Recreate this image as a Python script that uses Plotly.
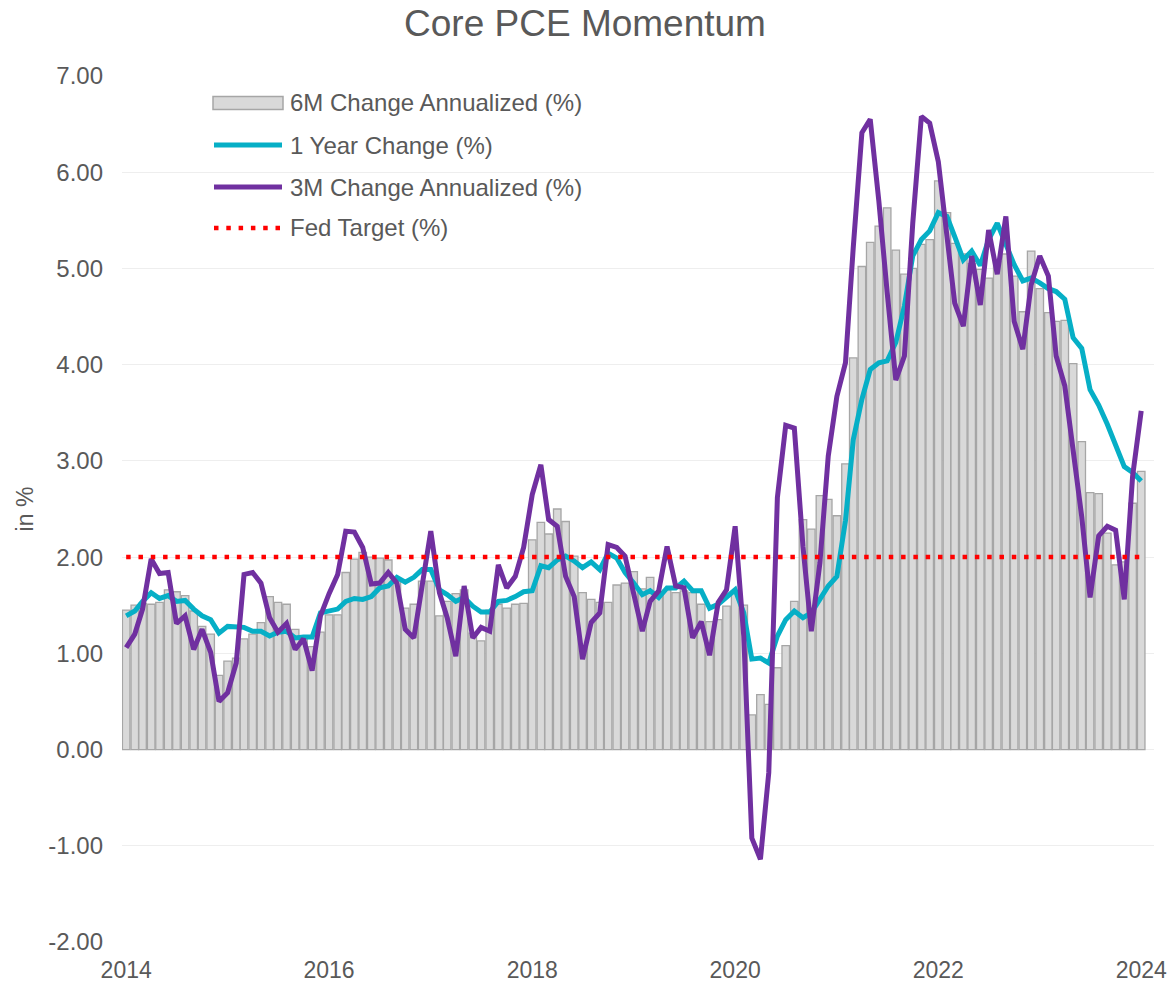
import plotly.graph_objects as go
import pandas as pd

# ---------------- data (monthly, Jan 2014 .. Jan 2024) ----------------
months = pd.date_range("2014-01-01", "2024-01-01", freq="MS")

six_month_annualized = [
    1.45, 1.50, 1.52, 1.51, 1.53, 1.66, 1.64, 1.60, 1.44, 1.28, 1.20, 0.77,
    0.92, 0.95, 1.15, 1.20, 1.32, 1.59, 1.53, 1.51, 1.25, 1.16, 1.07, 1.22,
    1.40, 1.40, 1.84, 1.98, 2.05, 2.00, 1.99, 1.97, 1.75, 1.47, 1.51, 1.75,
    1.75, 1.39, 1.54, 1.62, 1.66, 1.21, 1.13, 1.45, 1.51, 1.47, 1.51, 1.52,
    2.18, 2.36, 2.24, 2.50, 2.37, 2.01, 1.63, 1.56, 1.53, 1.53, 1.71, 1.73,
    1.85, 1.67, 1.79, 1.61, 1.66, 1.63, 1.65, 1.63, 1.51, 1.33, 1.35, 1.49,
    1.63, 1.50, 0.36, 0.57, 0.47, 0.85, 1.08, 1.54, 2.39, 2.29, 2.64, 2.60,
    2.43, 2.97, 4.07, 5.02, 5.27, 5.44, 5.63, 5.19, 4.94, 5.00, 5.25, 5.30,
    5.91, 5.58, 5.26, 5.15, 5.05, 4.99, 4.90, 5.07, 5.15, 4.92, 4.55, 5.18,
    4.79, 4.54, 4.45, 4.46, 4.01, 3.20, 2.67, 2.66, 2.25, 1.92, 1.95, 2.56,
    2.89,
]

one_year_change = [
    1.39, 1.44, 1.54, 1.63, 1.57, 1.60, 1.54, 1.55, 1.46, 1.39, 1.35, 1.21,
    1.28, 1.28, 1.27, 1.23, 1.23, 1.18, 1.22, 1.23, 1.16, 1.17, 1.17, 1.42,
    1.44, 1.46, 1.54, 1.57, 1.56, 1.59, 1.68, 1.70, 1.79, 1.74, 1.79, 1.87,
    1.87, 1.66, 1.61, 1.54, 1.58, 1.49, 1.43, 1.43, 1.54, 1.55, 1.59, 1.64,
    1.65, 1.91, 1.89, 1.97, 2.01, 1.96, 1.89, 1.95, 1.87, 2.04, 1.99, 1.84,
    1.73, 1.61, 1.65, 1.58, 1.68, 1.68, 1.75, 1.65, 1.65, 1.47, 1.51, 1.59,
    1.66, 1.42, 0.94, 0.95, 0.90, 1.18, 1.35, 1.44, 1.37, 1.42, 1.56, 1.70,
    1.80, 2.38, 3.22, 3.64, 3.95, 4.02, 4.04, 4.23, 4.61, 5.13, 5.30, 5.39,
    5.58, 5.54, 5.33, 5.09, 5.18, 5.03, 5.30, 5.47, 5.25, 5.04, 4.87, 4.90,
    4.85, 4.79, 4.76, 4.68, 4.28, 4.17, 3.74, 3.58, 3.38, 3.17, 2.94, 2.88,
    2.79,
]

three_month_annualized = [
    1.06, 1.20, 1.46, 1.98, 1.83, 1.84, 1.31, 1.39, 1.04, 1.25, 1.01, 0.50,
    0.59, 0.90, 1.82, 1.84, 1.73, 1.37, 1.22, 1.31, 1.04, 1.15, 0.82, 1.39,
    1.62, 1.82, 2.27, 2.26, 2.10, 1.72, 1.73, 1.84, 1.73, 1.25, 1.16, 1.72,
    2.27, 1.63, 1.37, 0.97, 1.70, 1.16, 1.27, 1.23, 1.92, 1.68, 1.80, 2.10,
    2.65, 2.96, 2.39, 2.32, 1.80, 1.59, 0.94, 1.32, 1.42, 2.13, 2.10, 2.01,
    1.63, 1.23, 1.54, 1.65, 2.11, 1.70, 1.68, 1.16, 1.33, 0.98, 1.53, 1.66,
    2.32, 1.18, -0.92, -1.14, -0.24, 2.62, 3.37, 3.34, 2.11, 1.23, 1.94, 3.05,
    3.67, 4.02, 5.22, 6.41, 6.55, 5.70, 4.75, 3.84, 4.09, 5.47, 6.58, 6.51,
    6.11, 5.37, 4.64, 4.40, 5.13, 4.62, 5.40, 4.94, 5.54, 4.45, 4.16, 4.83,
    5.13, 4.92, 4.09, 3.78, 3.15, 2.42, 1.58, 2.22, 2.32, 2.28, 1.56, 2.84,
    3.52,
]

FED_TARGET = 2.0
fed_target = [FED_TARGET] * len(months)

series_names = [
    "6M Change Annualized (%)",
    "1 Year Change (%)",
    "3M Change Annualized (%)",
    "Fed Target (%)",
]

y_tick_values = [-2, -1, 0, 1, 2, 3, 4, 5, 6, 7]
y_tick_labels = ["-2.00", "-1.00", "0.00", "1.00", "2.00", "3.00", "4.00", "5.00", "6.00", "7.00"]
x_tick_values = ["2014-01-01", "2016-01-01", "2018-01-01", "2020-01-01", "2022-01-01", "2024-01-01"]
x_tick_labels = ["2014", "2016", "2018", "2020", "2022", "2024"]

# ---------------- styles ----------------
FONT = "Arial, 'Liberation Sans', sans-serif"
TEXT = "#595959"
BAR_FILL = "#d9d9d9"
BAR_LINE = "#a6a6a6"
CYAN = "#06afc6"
PURPLE = "#7030a0"
RED = "#ff0000"
DOT_DASH = "4.5px,7.8px"

W, H = 1170, 984
ML, MR, MT, MB = 122, 16, 76, 42
PW, PH = W - ML - MR, H - MT - MB

fig = go.Figure()
fig.add_trace(go.Bar(
    x=months, y=six_month_annualized, name=series_names[0],
    marker=dict(color=BAR_FILL, line=dict(color=BAR_LINE, width=1.3)),
    width=27 * 86400000, showlegend=False,
))
fig.add_trace(go.Scatter(
    x=months, y=one_year_change, name=series_names[1], mode="lines",
    line=dict(color=CYAN, width=5), showlegend=False,
))
fig.add_trace(go.Scatter(
    x=months, y=three_month_annualized, name=series_names[2], mode="lines",
    line=dict(color=PURPLE, width=5), showlegend=False,
))
fig.add_trace(go.Scatter(
    x=months, y=fed_target, name=series_names[3], mode="lines",
    line=dict(color=RED, width=4.5, dash=DOT_DASH), showlegend=False,
))

# ---------------- legend (drawn in paper space) ----------------
def px_x(px):
    return (px - ML) / PW

def px_y(py):
    return (H - MB - py) / PH

legend_rows_y = [103, 145, 187, 228]
sym_x0, sym_x1, text_x = 213, 283, 288
shapes = []
shapes.append(dict(type="rect", xref="paper", yref="paper",
                   x0=px_x(sym_x0), x1=px_x(sym_x1),
                   y0=px_y(legend_rows_y[0] - 6.5), y1=px_y(legend_rows_y[0] + 6.5),
                   fillcolor=BAR_FILL, line=dict(color=BAR_LINE, width=1.5)))
for yy, col, dash, wd in [(legend_rows_y[1], CYAN, "solid", 5),
                          (legend_rows_y[2], PURPLE, "solid", 5),
                          (legend_rows_y[3], RED, DOT_DASH, 4.5)]:
    shapes.append(dict(type="line", xref="paper", yref="paper",
                       x0=px_x(sym_x0 + 1), x1=px_x(sym_x1 - 1),
                       y0=px_y(yy), y1=px_y(yy),
                       line=dict(color=col, width=wd, dash=dash)))
annotations = []
for yy, name in zip(legend_rows_y, series_names):
    annotations.append(dict(xref="paper", yref="paper", x=px_x(text_x), y=px_y(yy),
                            text=name, showarrow=False, xanchor="left", yanchor="middle",
                            font=dict(family=FONT, size=24, color=TEXT)))

fig.update_layout(
    width=W, height=H,
    margin=dict(l=ML, r=MR, t=MT, b=MB, pad=0, autoexpand=False),
    paper_bgcolor="white", plot_bgcolor="white",
    title=dict(text="Core PCE Momentum", x=0.5, xanchor="center",
               y=1 - 23 / H, yanchor="middle", yref="container",
               font=dict(family=FONT, size=37, color=TEXT)),
    font=dict(family=FONT, color=TEXT),
    bargap=0.05,
    shapes=shapes,
    annotations=annotations,
    showlegend=False,
)
fig.update_xaxes(
    type="date", range=["2013-12-17", "2024-02-16"],
    tickmode="array", tickvals=x_tick_values, ticktext=x_tick_labels,
    showgrid=False, zeroline=False, showline=False, ticks="",
    automargin=False,
    ticklabelstandoff=12,
    tickfont=dict(family=FONT, size=23, color=TEXT),
)
fig.update_yaxes(
    range=[-2, 7],
    tickmode="array", tickvals=y_tick_values, ticktext=y_tick_labels,
    showgrid=True, gridcolor="#eeeeee", gridwidth=1.2,
    zeroline=False, showline=False, ticks="",
    automargin=False,
    ticklabelstandoff=18,
    tickfont=dict(family=FONT, size=24, color=TEXT),
    title=dict(text="in %", standoff=8, font=dict(family=FONT, size=23, color=TEXT)),
)

fig.write_html("out.html", config={"displayModeBar": False},
               post_script="document.body.style.margin='0';")
